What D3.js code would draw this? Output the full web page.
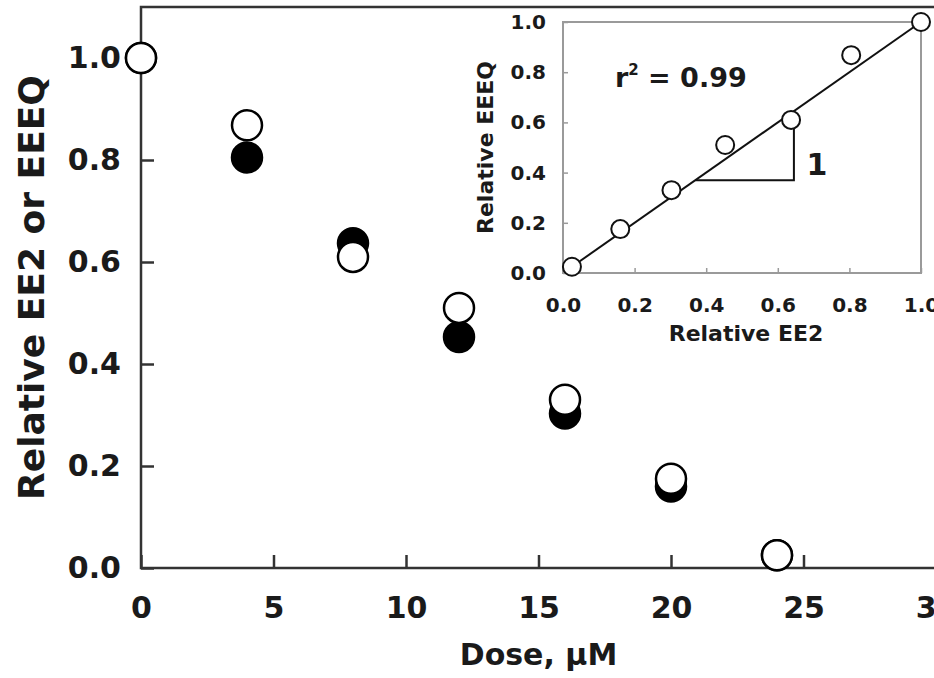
<!DOCTYPE html>
<html>
<head>
<meta charset="utf-8">
<script src="https://cdn.jsdelivr.net/npm/d3@7/dist/d3.min.js"></script>
<style>
  body { margin: 0; background: #fff; }
  svg { display: block; }
  text { font-family: "DejaVu Sans", sans-serif; font-weight: bold; fill: #1a1a1a; }
</style>
</head>
<body>
<svg id="chart"></svg>
<script>
// main panel: dose response
var doses = [0, 4, 8, 12, 16, 20, 24];
var ee2 = [1.0, 0.805, 0.637, 0.453, 0.303, 0.16, 0.025];   // filled circles
var eeeq = [1.0, 0.868, 0.61, 0.51, 0.33, 0.175, 0.025];    // open circles
var xTicks = [0, 5, 10, 15, 20, 25, 30];
var yTicks = [0.0, 0.2, 0.4, 0.6, 0.8, 1.0];

// inset: EEEQ vs EE2
var insetTicks = [0.0, 0.2, 0.4, 0.6, 0.8, 1.0];
var fitSlope = 1.0;
var fitIntercept = 0.0;
var fitRange = [0.02, 1.0];
var triangleX = [0.37, 0.645];

var width = 934, height = 678;

var svg = d3.select("#chart")
  .attr("width", width)
  .attr("height", height);

var x = d3.scaleLinear().domain([0, 30]).range([141, 936]);
var y = d3.scaleLinear().domain([0, 1.1]).range([568, 7]);

// frame
svg.append("rect")
  .attr("x", x(0)).attr("y", y(1.1))
  .attr("width", x(30) - x(0)).attr("height", y(0) - y(1.1))
  .attr("fill", "none").attr("stroke", "#333").attr("stroke-width", 2.5);

var xAxis = d3.axisBottom(x).tickValues(xTicks)
  .tickFormat(d3.format("d"))
  .tickSizeInner(-13).tickSizeOuter(0).tickPadding(29);

var gx = svg.append("g")
  .attr("transform", "translate(0," + y(0) + ")")
  .call(xAxis);

var yAxis = d3.axisLeft(y).tickValues(yTicks)
  .tickFormat(d3.format(".1f"))
  .tickSizeInner(-13).tickSizeOuter(0).tickPadding(20);

var gy = svg.append("g")
  .attr("transform", "translate(" + x(0) + ",0)")
  .call(yAxis);

[gx, gy].forEach(function(g) {
  g.select(".domain").remove();
  g.selectAll(".tick line").attr("stroke", "#333").attr("stroke-width", 2.5);
  g.selectAll(".tick text").style("font-size", "30px").attr("fill", "#1a1a1a");
});

svg.append("text")
  .attr("x", (x(0) + x(30)) / 2)
  .attr("y", 665)
  .attr("text-anchor", "middle")
  .style("font-size", "30px")
  .text("Dose, \u03bcM");

svg.append("text")
  .attr("transform", "translate(44," + (y(0) + y(1.1)) / 2 + ") rotate(-90)")
  .attr("text-anchor", "middle")
  .style("font-size", "36px")
  .text("Relative EE2 or EEEQ");

// filled first, open on top
svg.append("g").selectAll("circle")
  .data(doses)
  .enter().append("circle")
  .attr("cx", function(d) { return x(d); })
  .attr("cy", function(d, i) { return y(ee2[i]); })
  .attr("r", 15)
  .attr("fill", "#000").attr("stroke", "#000").attr("stroke-width", 2.5);

svg.append("g").selectAll("circle")
  .data(doses)
  .enter().append("circle")
  .attr("cx", function(d) { return x(d); })
  .attr("cy", function(d, i) { return y(eeeq[i]); })
  .attr("r", 15)
  .attr("fill", "#fff").attr("stroke", "#000").attr("stroke-width", 2.5);

// ---- inset ----
var xi = d3.scaleLinear().domain([0, 1]).range([563, 921]);
var yi = d3.scaleLinear().domain([0, 1]).range([273, 22]);

var inset = svg.append("g");

inset.append("rect")
  .attr("x", xi(0)).attr("y", yi(1))
  .attr("width", xi(1) - xi(0)).attr("height", yi(0) - yi(1))
  .attr("fill", "#fff").attr("stroke", "#9a9a9a").attr("stroke-width", 2);

var xiAxis = d3.axisBottom(xi).tickValues(insetTicks)
  .tickFormat(d3.format(".1f"))
  .tickSizeInner(-5).tickSizeOuter(0).tickPadding(25);
var yiAxis = d3.axisLeft(yi).tickValues(insetTicks)
  .tickFormat(d3.format(".1f"))
  .tickSizeInner(-5).tickSizeOuter(0).tickPadding(17);

var gxi = inset.append("g").attr("transform", "translate(0," + yi(0) + ")").call(xiAxis);
var gyi = inset.append("g").attr("transform", "translate(" + xi(0) + ",0)").call(yiAxis);

[gxi, gyi].forEach(function(g) {
  g.select(".domain").remove();
  g.selectAll(".tick line").attr("stroke", "#9a9a9a").attr("stroke-width", 1.5);
  g.selectAll(".tick text").style("font-size", "20px").attr("fill", "#1a1a1a");
});

inset.append("text")
  .attr("x", (xi(0) + xi(1)) / 2 + 4)
  .attr("y", 341)
  .attr("text-anchor", "middle")
  .style("font-size", "22px")
  .text("Relative EE2");

inset.append("text")
  .attr("transform", "translate(493," + (yi(0) + yi(1)) / 2 + ") rotate(-90)")
  .attr("text-anchor", "middle")
  .style("font-size", "22px")
  .text("Relative EEEQ");

// fit line
inset.append("line")
  .attr("x1", xi(fitRange[0])).attr("y1", yi(fitIntercept + fitSlope * fitRange[0]))
  .attr("x2", xi(fitRange[1])).attr("y2", yi(fitIntercept + fitSlope * fitRange[1]))
  .attr("stroke", "#111").attr("stroke-width", 2);

// slope triangle
var ty = fitIntercept + fitSlope * triangleX[0];
inset.append("path")
  .attr("d", d3.line()([
    [xi(triangleX[0]), yi(ty)],
    [xi(triangleX[1]), yi(ty)],
    [xi(triangleX[1]), yi(fitIntercept + fitSlope * triangleX[1])]
  ]))
  .attr("fill", "none").attr("stroke", "#111").attr("stroke-width", 2);

inset.append("g").selectAll("circle")
  .data(ee2)
  .enter().append("circle")
  .attr("cx", function(d) { return xi(d); })
  .attr("cy", function(d, i) { return yi(eeeq[i]); })
  .attr("r", 9)
  .attr("fill", "#fff").attr("stroke", "#111").attr("stroke-width", 2);

var r2 = inset.append("text")
  .attr("x", xi(0.145)).attr("y", yi(0.74))
  .style("font-size", "27px");
r2.append("tspan").text("r");
r2.append("tspan").attr("dy", -12).style("font-size", "15px").text("2");
r2.append("tspan").attr("dy", 12).text(" = 0.99");

inset.append("text")
  .attr("x", xi(0.68)).attr("y", yi(0.39))
  .style("font-size", "30px")
  .text("1");
</script>
</body>
</html>
